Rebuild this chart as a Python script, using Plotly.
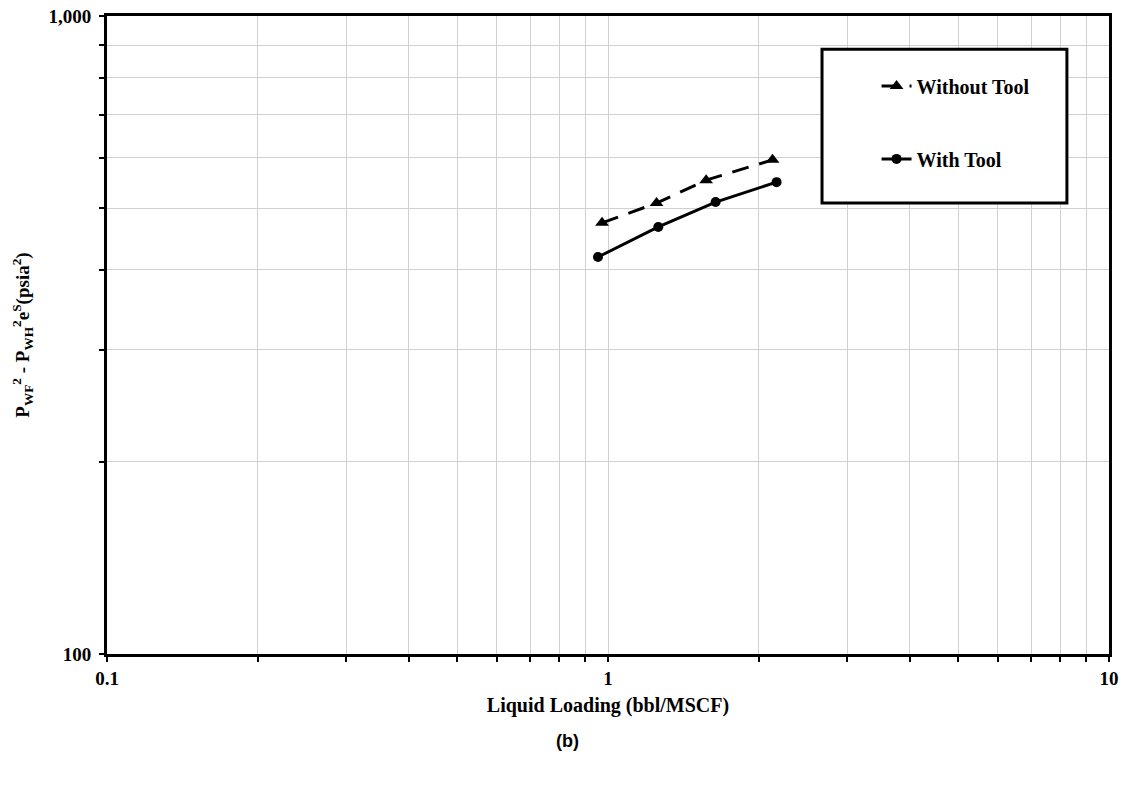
import plotly.graph_objects as go

# Data
without_x = [0.973, 1.25, 1.57, 2.13]
without_y = [474, 509, 553, 595]
with_x = [0.955, 1.26, 1.64, 2.17]
with_y = [419, 467, 511, 549]

x_tickvals = [0.1, 0.2, 0.3, 0.4, 0.5, 0.6, 0.7, 0.8, 0.9, 1, 2, 3, 4, 5, 6, 7, 8, 9, 10]
x_ticktext = ["0.1"] + [""] * 8 + ["1"] + [""] * 8 + ["10"]
y_tickvals = [100, 200, 300, 400, 500, 600, 700, 800, 900, 1000]
y_ticktext = ["100"] + [""] * 8 + ["1,000"]

SERIF = "Liberation Serif, Times New Roman, serif"

fig = go.Figure()
fig.add_trace(go.Scatter(
    x=without_x, y=without_y, name="Without Tool", mode="lines+markers",
    line=dict(color="black", width=3, dash="17px,11px"),
    marker=dict(symbol="triangle-up", size=12, color="black"),
    legendgroup="a",
))
fig.add_trace(go.Scatter(
    x=with_x, y=with_y, name="With Tool", mode="lines+markers",
    line=dict(color="black", width=3),
    marker=dict(symbol="circle", size=10, color="black"),
    legendgroup="b",
))

axis_common = dict(
    showline=True, linecolor="black", linewidth=3, mirror=True,
    showgrid=True, gridcolor="#d0d0d0", gridwidth=1,
    ticks="outside", ticklen=5, tickwidth=2, tickcolor="black",
    tickfont=dict(family=SERIF, size=19, color="black", weight="bold"),
    zeroline=False, automargin=False,
)

fig.update_xaxes(
    type="log", range=[-1, 1], tickmode="array",
    tickvals=x_tickvals, ticktext=x_ticktext,
    title=dict(text="<b>Liquid Loading (bbl/MSCF)</b>", standoff=11,
               font=dict(family=SERIF, size=20, color="black")),
    **axis_common,
)
fig.update_yaxes(
    type="log", range=[2, 3], tickmode="array",
    tickvals=y_tickvals, ticktext=y_ticktext,
    ticklabelstandoff=4,
    title=dict(text="<b>P<sub>WF</sub><sup>2</sup> - P<sub>WH</sub><sup>2</sup>e<sup>S</sup>(psia<sup>2</sup>)</b>",
               standoff=14, font=dict(family=SERIF, size=19, color="black")),
    **axis_common,
)

fig.add_shape(type="rect", xref="paper", yref="paper",
              x0=0.7136, x1=0.958, y0=0.707, y1=0.948,
              line=dict(color="black", width=3), fillcolor="white", layer="above")

fig.add_annotation(text="<b>(b)</b>", xref="paper", yref="paper",
                   x=0.46, y=-0.137, yanchor="middle", showarrow=False,
                   font=dict(family="Arial, Liberation Sans, sans-serif", size=18, color="black"))

fig.update_layout(
    width=1125, height=787,
    margin=dict(l=107, r=16, t=16, b=133),
    plot_bgcolor="white", paper_bgcolor="white",
    showlegend=True,
    legend=dict(x=0.768, y=0.921, xanchor="left", yanchor="top",
                bgcolor="rgba(0,0,0,0)", borderwidth=0,
                tracegroupgap=44, traceorder="grouped",
                font=dict(family=SERIF, size=20, color="black", weight="bold")),
)

fig.write_html("out.html")
